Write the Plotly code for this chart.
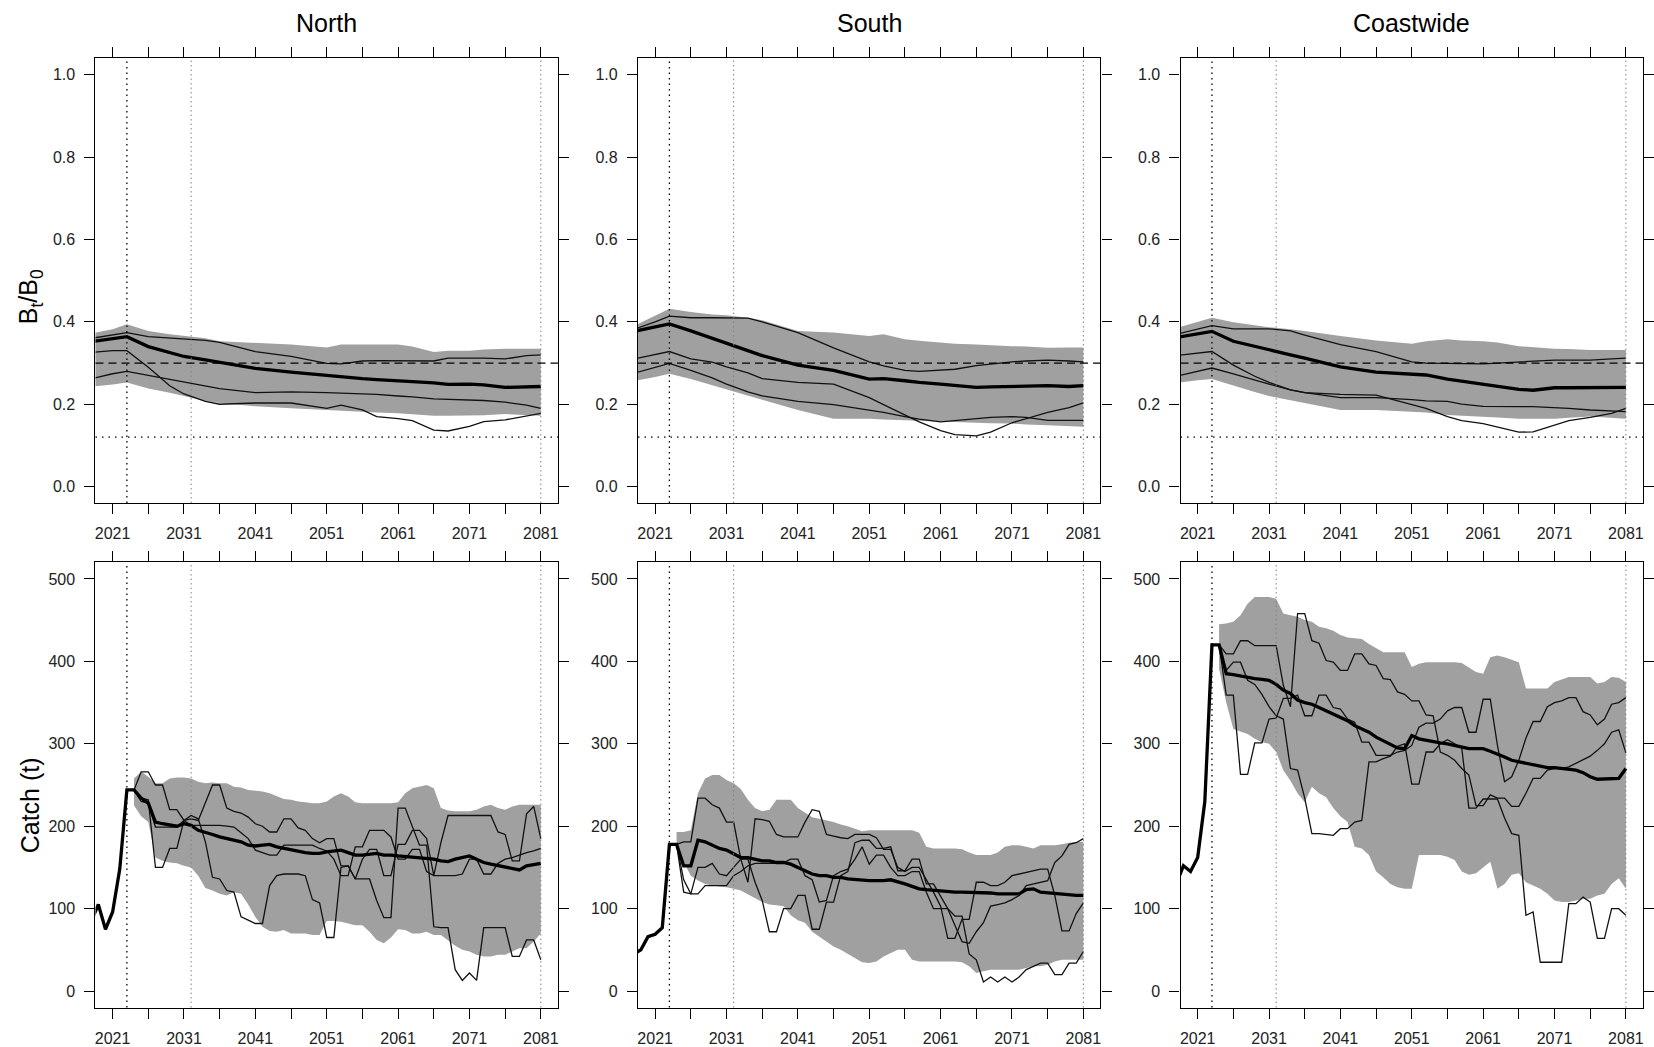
import plotly.graph_objects as go

# ---------------- DATA ----------------
REGIONS = ["North", "South", "Coastwide"]

# Top row: B_t/B_0 (shared year grid)
TOP_YEARS = [2018, 2021, 2023, 2026, 2029, 2031, 2034, 2036, 2041, 2046, 2051, 2053,
             2056, 2058, 2061, 2063, 2066, 2068, 2071, 2073, 2076, 2079, 2081]

north_bio_upper = [0.372, 0.382, 0.394, 0.378, 0.370, 0.366, 0.360, 0.353, 0.349, 0.345, 0.338, 0.345,
                   0.345, 0.345, 0.345, 0.340, 0.327, 0.330, 0.330, 0.333, 0.335, 0.335, 0.335]
north_bio_lower = [0.243, 0.248, 0.253, 0.238, 0.228, 0.220, 0.208, 0.203, 0.195, 0.190, 0.186, 0.184,
                   0.182, 0.180, 0.178, 0.176, 0.172, 0.172, 0.172, 0.173, 0.176, 0.174, 0.172]
north_bio_median = [0.352, 0.360, 0.364, 0.340, 0.326, 0.316, 0.308, 0.302, 0.287, 0.278, 0.270, 0.266,
                    0.262, 0.260, 0.256, 0.255, 0.252, 0.248, 0.249, 0.247, 0.241, 0.242, 0.243]
north_bio_w1 = [0.360, 0.368, 0.374, 0.364, 0.360, 0.358, 0.355, 0.350, 0.328, 0.316, 0.299, 0.298,
                0.305, 0.306, 0.306, 0.305, 0.305, 0.312, 0.313, 0.312, 0.310, 0.318, 0.320]
north_bio_w2 = [0.326, 0.330, 0.330, 0.290, 0.245, 0.225, 0.207, 0.200, 0.203, 0.203, 0.190, 0.198,
                0.186, 0.170, 0.165, 0.160, 0.137, 0.135, 0.146, 0.158, 0.162, 0.172, 0.178]
north_bio_w3 = [0.262, 0.274, 0.280, 0.270, 0.260, 0.253, 0.243, 0.238, 0.228, 0.230, 0.228, 0.227,
                0.226, 0.224, 0.220, 0.218, 0.213, 0.212, 0.211, 0.209, 0.205, 0.198, 0.190]

south_bio_upper = [0.390, 0.415, 0.432, 0.424, 0.418, 0.416, 0.410, 0.404, 0.378, 0.374, 0.366, 0.370,
                   0.358, 0.354, 0.349, 0.347, 0.345, 0.343, 0.341, 0.340, 0.337, 0.338, 0.338]
south_bio_lower = [0.256, 0.266, 0.274, 0.261, 0.246, 0.236, 0.221, 0.211, 0.186, 0.165, 0.165, 0.163,
                   0.161, 0.159, 0.157, 0.156, 0.155, 0.154, 0.153, 0.151, 0.149, 0.147, 0.145]
south_bio_median = [0.377, 0.387, 0.395, 0.378, 0.360, 0.349, 0.330, 0.318, 0.295, 0.282, 0.261, 0.262,
                    0.257, 0.253, 0.249, 0.245, 0.241, 0.242, 0.243, 0.244, 0.245, 0.243, 0.245]
south_bio_w1 = [0.382, 0.400, 0.414, 0.410, 0.410, 0.410, 0.409, 0.400, 0.374, 0.337, 0.303, 0.293,
                0.282, 0.280, 0.282, 0.285, 0.294, 0.298, 0.303, 0.305, 0.307, 0.305, 0.303]
south_bio_w2 = [0.310, 0.320, 0.328, 0.310, 0.302, 0.291, 0.276, 0.262, 0.253, 0.249, 0.216, 0.199,
                0.174, 0.157, 0.136, 0.126, 0.123, 0.132, 0.155, 0.165, 0.180, 0.192, 0.203]
south_bio_w3 = [0.275, 0.290, 0.299, 0.282, 0.264, 0.249, 0.230, 0.220, 0.207, 0.199, 0.186, 0.180,
                0.170, 0.164, 0.157, 0.160, 0.165, 0.168, 0.170, 0.168, 0.161, 0.161, 0.161]

coast_bio_upper = [0.385, 0.400, 0.410, 0.399, 0.392, 0.387, 0.382, 0.378, 0.366, 0.355, 0.347, 0.353,
                   0.358, 0.355, 0.353, 0.350, 0.341, 0.338, 0.335, 0.334, 0.332, 0.332, 0.332]
coast_bio_lower = [0.252, 0.258, 0.261, 0.245, 0.230, 0.220, 0.210, 0.203, 0.186, 0.186, 0.182, 0.180,
                   0.174, 0.172, 0.170, 0.168, 0.165, 0.165, 0.165, 0.167, 0.170, 0.167, 0.165]
coast_bio_median = [0.362, 0.370, 0.377, 0.353, 0.340, 0.332, 0.320, 0.312, 0.291, 0.278, 0.272, 0.271,
                    0.261, 0.256, 0.249, 0.244, 0.236, 0.234, 0.240, 0.240, 0.241, 0.241, 0.241]
coast_bio_w1 = [0.370, 0.383, 0.391, 0.383, 0.383, 0.383, 0.378, 0.368, 0.345, 0.328, 0.303, 0.300,
                0.299, 0.299, 0.298, 0.300, 0.303, 0.305, 0.307, 0.307, 0.307, 0.310, 0.312]
coast_bio_w2 = [0.318, 0.325, 0.328, 0.295, 0.268, 0.253, 0.235, 0.228, 0.224, 0.222, 0.199, 0.190,
                0.170, 0.160, 0.153, 0.145, 0.132, 0.133, 0.149, 0.160, 0.168, 0.178, 0.190]
coast_bio_w3 = [0.268, 0.280, 0.288, 0.274, 0.258, 0.249, 0.235, 0.228, 0.216, 0.216, 0.211, 0.208,
                0.207, 0.200, 0.195, 0.194, 0.194, 0.194, 0.192, 0.190, 0.186, 0.184, 0.182]

# Bottom row: catch (t)
MEDIAN_YEARS = list(range(2018, 2082))   # 2018..2081
PROJ_YEARS = list(range(2024, 2082))     # 2024..2081

north_catch_median = [
    85, 105, 75, 96, 148, 244, 244, 234, 228, 205,          # 2018-2027
    203, 202, 200, 203, 201, 195, 193, 190, 187, 185,       # 2028-2037
    183, 181, 177, 176, 177, 178, 175, 173, 171, 169,       # 2038-2047
    168, 167, 167, 169, 170, 171, 168, 165, 165, 166,       # 2048-2057
    167, 165, 165, 164, 163, 162, 162, 161, 160, 158,       # 2058-2067
    157, 160, 162, 164, 160, 156, 154, 152, 151, 148,       # 2068-2077
    147, 152, 154, 155]                                     # 2078-2081
north_catch_upper = [
    258, 266, 260, 252, 252, 258, 259, 259, 258, 254,       # 2024-2033
    252, 253, 252, 252, 248, 247, 244, 243, 242, 240,       # 2034-2043
    236, 233, 232, 230, 229, 228, 228, 230, 236, 240,       # 2044-2053
    236, 229, 228, 228, 228, 228, 228, 229, 240, 246,       # 2054-2063
    248, 250, 246, 222, 219, 218, 218, 218, 220, 224,       # 2064-2073
    226, 222, 220, 224, 226, 226, 226, 226]                 # 2074-2081
north_catch_lower = [
    225, 212, 205, 162, 158, 156, 155, 152, 150, 140,
    125, 122, 118, 116, 120, 118, 105, 90, 78, 73,
    72, 74, 70, 70, 70, 68, 68, 85, 85, 84,
    82, 80, 80, 72, 62, 58, 65, 75, 74, 70,
    70, 72, 68, 68, 62, 55, 50, 48, 44, 42,
    42, 44, 44, 48, 52, 52, 60, 70]
north_catch_w1 = [
    244, 266, 266, 250, 250, 220, 220, 207, 201, 201,
    201, 201, 201, 200, 199, 192, 185, 171, 168, 165,
    165, 177, 177, 177, 177, 177, 173, 170, 160, 140,
    140, 175, 175, 195, 195, 195, 187, 160, 160, 172,
    172, 145, 140, 140, 140, 140, 142, 160, 160, 142,
    142, 155, 160, 162, 165, 168, 170, 173]
north_catch_w2 = [
    244, 234, 232, 150, 150, 173, 173, 207, 213, 209,
    181, 138, 136, 122, 120, 90, 86, 82, 82, 128,
    140, 142, 142, 142, 140, 111, 107, 65, 65, 150,
    152, 136, 136, 136, 110, 89, 89, 222, 222, 199,
    177, 177, 78, 77, 77, 26, 13, 22, 13, 77,
    77, 77, 77, 42, 42, 62, 62, 38]
north_catch_w3 = [
    244, 230, 228, 199, 199, 199, 199, 207, 209, 207,
    228, 250, 250, 222, 218, 216, 211, 203, 200, 193,
    193, 209, 209, 198, 195, 185, 180, 185, 185, 152,
    152, 136, 160, 172, 172, 140, 140, 178, 178, 195,
    195, 185, 140, 180, 213, 213, 213, 213, 213, 213,
    213, 193, 190, 158, 158, 215, 224, 185]

south_catch_median = [
    45, 50, 66, 69, 77, 178, 178, 152, 152, 183,
    181, 177, 173, 171, 167, 162, 162, 160, 158, 158,
    156, 156, 154, 150, 146, 142, 140, 140, 138, 138,
    136, 135, 134, 134, 134, 134, 135, 133, 130, 127,
    124, 123, 122, 122, 121, 120, 120, 120, 119, 119,
    119, 118, 118, 118, 118, 123, 124, 120, 119, 118,
    117, 116, 116, 116]
south_catch_upper = [
    193, 193, 195, 240, 258, 262, 262, 256, 252, 245,
    232, 222, 218, 220, 232, 232, 232, 222, 216, 211,
    209, 207, 205, 202, 200, 197, 194, 195, 195, 195,
    195, 195, 195, 195, 192, 175, 173, 173, 173, 173,
    172, 168, 165, 165, 165, 168, 175, 177, 177, 175,
    173, 177, 177, 177, 178, 180, 181, 181]
south_catch_lower = [
    173, 156, 140, 134, 130, 128, 127, 126, 124, 122,
    118, 113, 108, 105, 104, 103, 92, 86, 83, 72,
    66, 60, 54, 50, 46, 40, 35, 34, 36, 42,
    46, 50, 50, 38, 36, 36, 36, 36, 36, 36,
    35, 30, 22, 24, 26, 26, 26, 26, 26, 28,
    30, 30, 32, 36, 38, 38, 38, 38]
south_catch_w1 = [
    178, 181, 181, 234, 234, 226, 222, 205, 205, 160,
    132, 209, 208, 206, 190, 187, 187, 187, 205, 220,
    218, 190, 188, 186, 185, 190, 190, 190, 186, 172,
    172, 150, 145, 150, 150, 135, 120, 103, 64, 64,
    87, 87, 132, 132, 128, 128, 132, 140, 142, 144,
    146, 148, 148, 116, 73, 73, 94, 107]
south_catch_w2 = [
    178, 120, 118, 150, 150, 155, 142, 140, 150, 160,
    160, 132, 110, 72, 72, 100, 100, 116, 116, 75,
    75, 108, 108, 140, 145, 180, 183, 183, 173, 173,
    175, 146, 146, 160, 160, 130, 130, 115, 100, 91,
    91, 45, 38, 11, 17, 11, 17, 11, 17, 26,
    30, 34, 34, 20, 20, 34, 34, 48]
south_catch_w3 = [
    178, 135, 118, 118, 128, 128, 128, 128, 140, 145,
    152, 155, 155, 155, 155, 156, 160, 160, 140, 135,
    108, 110, 140, 145, 148, 160, 175, 154, 165, 165,
    150, 140, 140, 145, 145, 120, 100, 100, 100, 80,
    60, 58, 72, 83, 103, 105, 107, 111, 116, 128,
    130, 132, 134, 156, 164, 178, 180, 185]

coast_catch_median = [
    130, 152, 145, 162, 230, 420, 420, 385, 384, 382,
    380, 379, 378, 377, 372, 365, 361, 353, 350, 348,
    344, 340, 336, 332, 328, 322, 318, 314, 308, 304,
    300, 295, 294, 310, 306, 304, 302, 301, 300, 298,
    296, 294, 294, 294, 291, 288, 284, 280, 278, 276,
    274, 272, 271, 271, 270, 270, 268, 265, 260, 257,
    257, 257, 258, 270]
coast_catch_upper = [
    445, 446, 448, 456, 470, 478, 478, 478, 476, 458,
    456, 454, 450, 448, 442, 440, 437, 432, 429, 428,
    427, 421, 416, 411, 411, 411, 411, 393, 397, 399,
    399, 399, 399, 399, 398, 392, 387, 385, 405, 407,
    405, 402, 399, 367, 367, 367, 367, 375, 378, 381,
    381, 381, 381, 373, 375, 381, 380, 375]
coast_catch_lower = [
    391, 350, 318, 315, 312, 306, 302, 300, 290, 268,
    255, 240, 229, 248, 240, 235, 222, 212, 205, 175,
    173, 165, 145, 138, 130, 126, 124, 124, 165, 165,
    165, 165, 163, 159, 145, 141, 143, 150, 157, 124,
    130, 141, 143, 132, 128, 124, 118, 110, 108, 108,
    110, 112, 112, 116, 118, 130, 137, 124]
coast_catch_w1 = [
    420, 409, 409, 425, 425, 419, 419, 419, 419, 371,
    345, 458, 458, 425, 422, 401, 399, 389, 389, 409,
    409, 397, 395, 379, 378, 363, 360, 352, 352, 335,
    334, 290, 286, 280, 270, 262, 225, 225, 238, 234,
    234, 224, 224, 240, 258, 258, 268, 270, 270, 272,
    276, 280, 285, 292, 300, 314, 317, 289]
coast_catch_w2 = [
    420, 359, 359, 263, 263, 301, 301, 330, 331, 355,
    355, 359, 334, 334, 359, 359, 344, 342, 330, 326,
    302, 302, 286, 286, 286, 290, 292, 298, 320, 325,
    325, 330, 340, 344, 344, 314, 314, 354, 354, 298,
    254, 260, 280, 307, 327, 327, 345, 350, 352, 356,
    356, 339, 335, 323, 330, 348, 350, 356]
coast_catch_w3 = [
    420, 389, 399, 399, 377, 372, 360, 345, 334, 330,
    270, 268, 234, 191, 191, 190, 189, 197, 197, 205,
    207, 278, 278, 282, 285, 297, 300, 251, 251, 290,
    290, 300, 305, 300, 295, 222, 222, 233, 233, 233,
    210, 191, 189, 92, 96, 35, 35, 35, 35, 106,
    106, 114, 108, 64, 64, 100, 100, 92]

# Reference lines
REF_YEARS_DARK = [2023]
REF_YEARS_LIGHT = [2032, 2081]
TARGET_LEVEL = 0.3
LIMIT_LEVEL = 0.12

X_MAJOR = list(range(2021, 2082, 10))
X_MINOR = list(range(2026, 2082, 10))

# ---------------- FIGURE ----------------
W, H = 1654, 1047
FONT = "Liberation Sans, Arial, Helvetica, sans-serif"
BAND = "#a0a0a0"
INK = "#111111"

bio = {
    "North": (north_bio_upper, north_bio_lower, north_bio_median, [north_bio_w1, north_bio_w2, north_bio_w3]),
    "South": (south_bio_upper, south_bio_lower, south_bio_median, [south_bio_w1, south_bio_w2, south_bio_w3]),
    "Coastwide": (coast_bio_upper, coast_bio_lower, coast_bio_median, [coast_bio_w1, coast_bio_w2, coast_bio_w3]),
}
catch = {
    "North": (north_catch_upper, north_catch_lower, north_catch_median, [north_catch_w1, north_catch_w2, north_catch_w3]),
    "South": (south_catch_upper, south_catch_lower, south_catch_median, [south_catch_w1, south_catch_w2, south_catch_w3]),
    "Coastwide": (coast_catch_upper, coast_catch_lower, coast_catch_median, [coast_catch_w1, coast_catch_w2, coast_catch_w3]),
}

col_px = [(95.0, 560.0), (640.5, 1105.5), (1186.0, 1651.0)]
row_px = [(58.5, 504.0), (563.5, 1009.5)]

fig = go.Figure()
layout = dict(width=W, height=H, autosize=False, margin=dict(l=0, r=0, t=0, b=0),
              paper_bgcolor="white", plot_bgcolor="white", showlegend=False,
              font=dict(family=FONT, color="#222222"))
shapes = []
annotations = []


def add_panel(idx, region, row, col):
    sx = "" if idx == 1 else str(idx)
    xa, ya = "x" + sx, "y" + sx
    x0, x1 = col_px[col]
    y0, y1 = row_px[row]
    if row == 0:
        upper, lower, median, worms = bio[region]
        years_band = TOP_YEARS
        years_w = TOP_YEARS
        years_m = TOP_YEARS
        yr = [-0.04, 1.04]
        yt = [0, 0.2, 0.4, 0.6, 0.8, 1.0]
        ytt = ["%.1f" % v for v in yt]
    else:
        upper, lower, median, worms = catch[region]
        years_band = PROJ_YEARS
        years_w = PROJ_YEARS
        years_m = MEDIAN_YEARS
        yr = [-20, 520]
        yt = [0, 100, 200, 300, 400, 500]
        ytt = [str(v) for v in yt]

    fig.add_trace(go.Scatter(x=list(years_band) + list(years_band)[::-1],
                             y=list(upper) + list(lower)[::-1],
                             fill="toself", fillcolor=BAND, mode="lines",
                             line=dict(width=0, color=BAND), xaxis=xa, yaxis=ya,
                             hoverinfo="skip"))
    for w in worms:
        fig.add_trace(go.Scatter(x=years_w, y=w, mode="lines",
                                 line=dict(color=INK, width=1.3), xaxis=xa, yaxis=ya))
    fig.add_trace(go.Scatter(x=years_m, y=median, mode="lines",
                             line=dict(color="black", width=3.3), xaxis=xa, yaxis=ya))

    axis_common = dict(showline=True, linecolor="black", linewidth=1.2, mirror="allticks",
                       ticks="outside", ticklen=10, tickwidth=1.2, tickcolor="black",
                       showgrid=False, zeroline=False,
                       tickfont=dict(family=FONT, size=16, color="#222222"))
    layout["xaxis" + sx] = dict(axis_common, domain=[x0 / W, x1 / W], range=[2018.6, 2083.4],
                                anchor=ya, tickmode="array", tickvals=X_MAJOR,
                                ticktext=[str(v) for v in X_MAJOR], ticklabelstandoff=6,
                                minor=dict(tickmode="array", tickvals=X_MINOR, ticks="outside",
                                           ticklen=10, tickwidth=1.2, tickcolor="black",
                                           showgrid=False))
    layout["yaxis" + sx] = dict(axis_common, domain=[1 - y1 / H, 1 - y0 / H], range=yr,
                                anchor=xa, tickmode="array", tickvals=yt, ticktext=ytt,
                                ticklabelstandoff=6)

    for yv in REF_YEARS_DARK:
        shapes.append(dict(type="line", xref=xa, yref=ya + " domain", x0=yv, x1=yv, y0=0, y1=1,
                           line=dict(color="black", width=1.3, dash="1.5px,4px"), layer="above"))
    for yv in REF_YEARS_LIGHT:
        shapes.append(dict(type="line", xref=xa, yref=ya + " domain", x0=yv, x1=yv, y0=0, y1=1,
                           line=dict(color="#808080", width=1, dash="1.5px,3px"), layer="above"))
    if row == 0:
        shapes.append(dict(type="line", xref=xa + " domain", yref=ya, x0=0, x1=1,
                           y0=TARGET_LEVEL, y1=TARGET_LEVEL,
                           line=dict(color="black", width=1.3, dash="8px,5px"), layer="above"))
        shapes.append(dict(type="line", xref=xa + " domain", yref=ya, x0=0, x1=1,
                           y0=LIMIT_LEVEL, y1=LIMIT_LEVEL,
                           line=dict(color="black", width=1.4, dash="1.5px,5px"), layer="above"))
        annotations.append(dict(text=region, xref="paper", yref="paper",
                                x=(x0 + x1) / 2 / W, y=1 - 23 / H, xanchor="center",
                                yanchor="middle", showarrow=False,
                                font=dict(family=FONT, size=25, color="black")))


idx = 1
for row in range(2):
    for col, region in enumerate(REGIONS):
        add_panel(idx, region, row, col)
        idx += 1

annotations.append(dict(text="B<sub>t</sub>/B<sub>0</sub>", xref="paper", yref="paper",
                        x=30 / W, y=1 - 297 / H, xanchor="center", yanchor="middle",
                        textangle=-90, showarrow=False,
                        font=dict(family=FONT, size=25, color="black")))
annotations.append(dict(text="Catch (t)", xref="paper", yref="paper",
                        x=30 / W, y=1 - 807 / H, xanchor="center", yanchor="middle",
                        textangle=-90, showarrow=False,
                        font=dict(family=FONT, size=25, color="black")))

layout["shapes"] = shapes
layout["annotations"] = annotations
fig.update_layout(**layout)
fig.write_html("out.html")
